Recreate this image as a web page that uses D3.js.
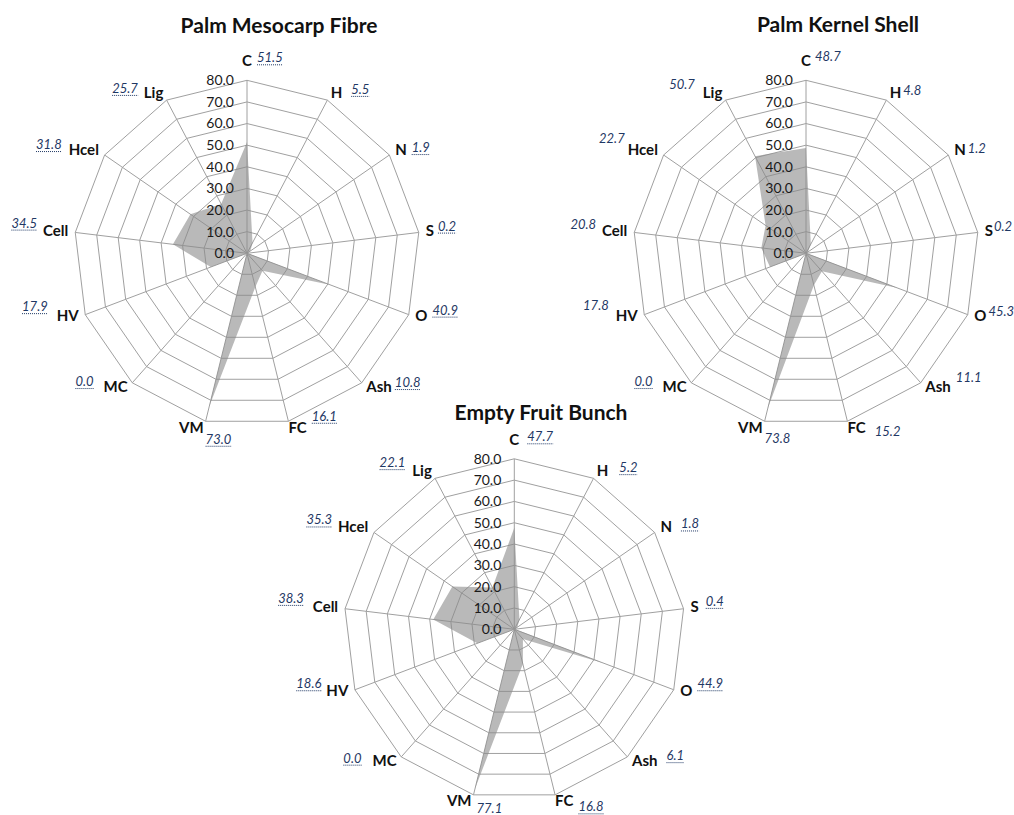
<!DOCTYPE html>
<html><head><meta charset="utf-8">
<script src="https://cdn.jsdelivr.net/npm/d3@7"></script>
<style>
html,body{margin:0;padding:0;background:#fff;}
svg{display:block;}
</style></head>
<body>
<svg id="chart" width="1014" height="815"></svg>
<script>
// ---- data ----
const categories = ["C","H","N","S","O","Ash","FC","VM","MC","HV","Cell","Hcel","Lig"];
const titles = ["Palm Mesocarp Fibre","Palm Kernel Shell","Empty Fruit Bunch"];
const pmfValues = [51.5,5.5,1.9,0.2,40.9,10.8,16.1,73.0,0.0,17.9,34.5,31.8,25.7];
const pksValues = [48.7,4.8,1.2,0.2,45.3,11.1,15.2,73.8,0.0,17.8,20.8,22.7,50.7];
const efbValues = [47.7,5.2,1.8,0.4,44.9,6.1,16.8,77.1,0.0,18.6,38.3,35.3,22.1];
const tickValues = [0,10,20,30,40,50,60,70,80];

// ---- layout (styles / positions) ----
const panels = [
  {title:titles[0], values:pmfValues, cx:247, cy:253.3, R:173, titleX:279, titleY:33, underline:()=>true,
   gap:[5,9,5,4,5,3,5,2,10,9,6,7,6], vdy:[-4,-4,-3,-5,-6.5,-5,-12,11,-6,-10,-8,-6,-5]},
  {title:titles[1], values:pksValues, cx:806, cy:253.3, R:173, titleX:838, titleY:32, underline:(c)=>c==="MC",
   gap:[4,2,2,1,2,5,9,2,10,7,6,3,8], vdy:[-5,-3,-2,-5,-5,-10,3,10,-6,-11,-7,-12,-9]},
  {title:titles[2], values:efbValues, cx:514.3, cy:629.3, R:170.5, titleX:541, titleY:420, underline:()=>true,
   gap:[8,11,9,7,5,9,5,5,11,5,9,6,7], vdy:[-3.5,-4,-4,-6,-8,-6,5,7,-3.5,-8,-9,-8,-9]}
];

const FONT = "Lato, 'Open Sans', sans-serif";
const svg = d3.select("#chart");
const n = categories.length;
const angle = i => i * 2 * Math.PI / n;
const fmt = d3.format(".1f");

panels.forEach(p => {
  const r = d3.scaleLinear().domain([0, 80]).range([0, p.R]);
  const g = svg.append("g").attr("transform", `translate(${p.cx},${p.cy})`);

  // title
  svg.append("text").attr("x", p.titleX).attr("y", p.titleY)
    .attr("text-anchor","middle").attr("font-family",FONT).attr("font-weight","bold")
    .attr("font-size",21).attr("fill","#111").text(p.title);

  // grid rings
  const ringLine = d3.lineRadial().angle((d,i)=>angle(i)).radius(d=>r(d)).curve(d3.curveLinearClosed);
  tickValues.filter(t=>t>0).forEach(t => {
    g.append("path").attr("d", ringLine(categories.map(()=>t)))
      .attr("fill","none").attr("stroke","#a0a0a0").attr("stroke-width",1);
  });
  // spokes
  categories.forEach((c,i) => {
    const a = angle(i);
    g.append("line").attr("x1",0).attr("y1",0)
      .attr("x2", r(80)*Math.sin(a)).attr("y2", -r(80)*Math.cos(a))
      .attr("stroke","#a0a0a0").attr("stroke-width",1);
  });

  // data area
  const area = d3.lineRadial().angle((d,i)=>angle(i)).radius(d=>r(d)).curve(d3.curveLinearClosed);
  g.append("path").attr("d", area(p.values))
    .attr("fill","#8a8a8a").attr("fill-opacity",0.6).attr("stroke","none");

  // tick labels
  tickValues.forEach(t => {
    g.append("text").attr("x",-13).attr("y",-r(t)).attr("dy","0.35em")
      .attr("text-anchor","end").attr("font-family",FONT).attr("font-size",14)
      .attr("fill","#1a1a1a").text(fmt(t));
  });

  // category labels + value labels
  categories.forEach((c,i) => {
    const a = angle(i), s = Math.sin(a), co = Math.cos(a);
    const ex = r(80)*s, ey = -r(80)*co;
    let anchor, lx, ly;
    if (Math.abs(s) < 0.05) { anchor="middle"; lx=ex; ly=ey-14; }
    else if (co < -0.9) { anchor = s>0 ? "start":"end"; lx = ex + (s>0?0:-2); ly = ey + 11.5; }
    else { anchor = s>0 ? "start":"end"; lx = ex + 7*s; ly = ey - 1 - 7*co + 5; }
    const lab = g.append("text").attr("x",lx).attr("y",ly).attr("text-anchor",anchor)
      .attr("font-family",FONT).attr("font-weight","bold").attr("font-size",15)
      .attr("fill","#111").text(c);
    const bb = lab.node().getBBox();
    const right = s >= -0.05 || (co < -0.9 && s < 0);
    const vx = right ? bb.x + bb.width + p.gap[i] : bb.x - p.gap[i];
    const vy = ly + p.vdy[i];
    const val = g.append("text").attr("x",vx).attr("y",vy)
      .attr("text-anchor", right ? "start" : "end")
      .attr("font-family",FONT).attr("font-style","italic").attr("font-size",13)
      .attr("fill","#1f3864").text(fmt(p.values[i]));
    if (p.underline(c)) {
      const vb = val.node().getBBox();
      g.append("line").attr("x1",vb.x).attr("x2",vb.x+vb.width)
        .attr("y1",vy+2.5).attr("y2",vy+2.5)
        .attr("stroke","#1f3864").attr("stroke-width",1).attr("stroke-dasharray","1,1");
    }
  });
});
</script>
</body></html>
